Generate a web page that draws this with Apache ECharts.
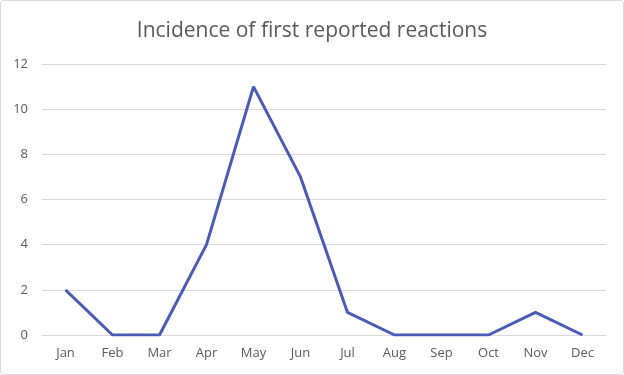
<!DOCTYPE html>
<html><head><meta charset="utf-8">
<script src="https://cdn.jsdelivr.net/npm/echarts@6/dist/echarts.min.js"></script>
<style>html,body{margin:0;padding:0;background:#fff}#c{width:622px;height:373px;border:1px solid #d9d9d9;border-radius:3px}</style>
</head><body><div id="c"></div>
<script>
const categories = ['Jan','Feb','Mar','Apr','May','Jun','Jul','Aug','Sep','Oct','Nov','Dec'];
const values = [2,0,0,4,11,7,1,0,0,0,1,0];
const yTicks = {min:0, max:12, interval:2};
const chart = echarts.init(document.getElementById('c'));
chart.setOption({
  animation:false,
  title:{text:'Incidence of first reported reactions',left:'center',top:15,textStyle:{fontFamily:'Open Sans',fontWeight:'normal',fontSize:21,color:'#595959'}},
  grid:{left:41,right:17,top:63,bottom:39},
  xAxis:{type:'category',data:categories,boundaryGap:true,axisTick:{show:false},axisLine:{lineStyle:{color:'#d9d9d9'}},axisLabel:{color:'#595959',fontSize:13,fontFamily:'Open Sans',margin:12}},
  yAxis:{type:'value',min:yTicks.min,max:yTicks.max,interval:yTicks.interval,axisLine:{show:false},axisTick:{show:false},splitLine:{lineStyle:{color:'#d9d9d9'}},axisLabel:{color:'#595959',fontSize:13,fontFamily:'Open Sans',margin:14}},
  series:[{type:'line',data:values,symbol:'none',lineStyle:{color:'#4a5bb5',width:3}}]
});
</script></body></html>
